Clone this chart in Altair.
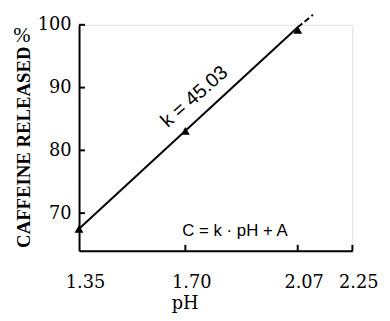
import altair as alt
import pandas as pd

# data
ph_points = [1.35, 1.70, 2.07]
caffeine_points = [67.5, 83.1, 99.2]
line_ph = [1.35, 2.07]
line_c = [67.5, 99.6]
ext_ph = [2.07, 2.12]
ext_c = [99.6, 101.6]
x_ticks = [1.35, 1.70, 2.07, 2.25]
y_ticks = [70, 80, 90, 100]

W, H = 277, 229

pts = pd.DataFrame({"pH": ph_points, "C": caffeine_points})
ln = pd.DataFrame({"pH": line_ph, "C": line_c})
ext = pd.DataFrame({"pH": ext_ph, "C": ext_c})
xt = pd.DataFrame({"pH": x_ticks[1:]})
yt = pd.DataFrame({"C": y_ticks})

xs = alt.Scale(domain=[1.35, 2.25], nice=False, zero=False)
ys = alt.Scale(domain=[64, 100], nice=False, zero=False)

xax = alt.Axis(values=x_ticks, format=".2f", grid=False, ticks=False, tickSize=0,
               labelOverlap=False, labelFlush=False,
               domainColor="black", domainWidth=2, labelFont="DejaVu Serif",
               labelFontSize=18, labelColor="black", labelPadding=23, labelOffset=6,
               title="pH", titleFont="DejaVu Serif", titleFontSize=18,
               titleFontWeight="normal", titleColor="black", titleX=107, titleY=58,
               titleBaseline="alphabetic", titleAlign="center")
yax = alt.Axis(values=y_ticks, grid=False, ticks=False, tickSize=0,
               labelOverlap=False, labelFlush=False,
               domainColor="black", domainWidth=2, labelFont="DejaVu Serif",
               labelFontSize=18, labelColor="black", labelPadding=8, title=None)

base_line = alt.Chart(ln).mark_line(color="black", strokeWidth=2).encode(
    x=alt.X("pH:Q", scale=xs, axis=xax),
    y=alt.Y("C:Q", scale=ys, axis=yax),
)
ext_line = alt.Chart(ext).mark_line(color="black", strokeWidth=2, strokeDash=[6, 3], clip=False).encode(
    x=alt.X("pH:Q", scale=xs), y=alt.Y("C:Q", scale=ys)
)
points = alt.Chart(pts).mark_point(shape="triangle-up", filled=True, color="black", size=80, opacity=1).encode(
    x=alt.X("pH:Q", scale=xs), y=alt.Y("C:Q", scale=ys)
)
xticks = alt.Chart(xt).mark_rule(color="black", strokeWidth=2).encode(
    x=alt.X("pH:Q", scale=xs), y=alt.value(H), y2=alt.value(H - 6)
)
yticks = alt.Chart(yt).mark_rule(color="black", strokeWidth=2).encode(
    y=alt.Y("C:Q", scale=ys), x=alt.value(0), x2=alt.value(6)
)

def label(text, x, y, **kw):
    return alt.Chart(pd.DataFrame({"t": [text]})).mark_text(color="black", **kw).encode(
        text="t:N", x=alt.value(x), y=alt.value(y)
    )

k_text = label("k = 45.03", 117, 73, angle=318.5, font="Liberation Sans", fontSize=20,
               align="center", baseline="middle")
eq_text = label("C = k · pH + A", 158, 209, font="Liberation Sans", fontSize=17,
                align="center", baseline="middle")
ytitle = label("CAFFEINE RELEASED", -56, 124, angle=270, font="Liberation Serif",
               fontSize=19, fontWeight="bold", align="center", baseline="middle")
pct = label("%", -58, 11, font="Liberation Serif", fontSize=21, align="center",
            baseline="middle")

chart = alt.layer(base_line, ext_line, points, xticks, yticks, k_text, eq_text, ytitle, pct).properties(
    width=W, height=H,
    autosize=alt.AutoSizeParams(type="none"),
    padding={"left": 72, "top": 15, "right": 30, "bottom": 62},
).configure_view(stroke=None).configure(background="white")

chart.save("out.html", embed_options={"renderer": "svg", "actions": False})
